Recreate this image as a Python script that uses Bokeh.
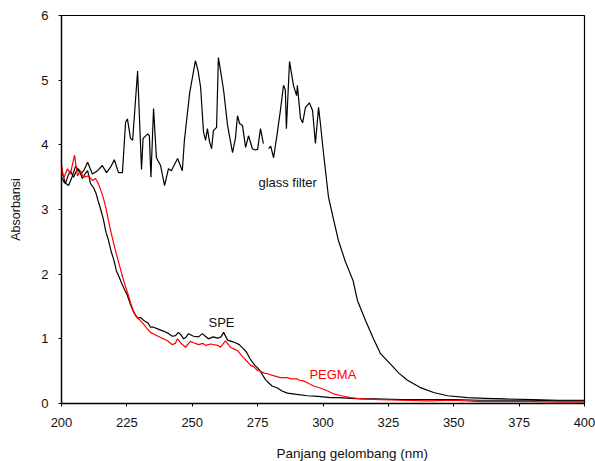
from bokeh.plotting import figure
from bokeh.models import Label, FixedTicker, Range1d, LinearAxis, Title
from bokeh.embed import file_html
from bokeh.resources import INLINE

nan = float("nan")

# x ticks / y ticks
x_ticks = [200, 225, 250, 275, 300, 325, 350, 375, 400]
y_ticks = [0, 1, 2, 3, 4, 5, 6]

# glass filter (black)
gf_nm = [200, 201, 202.7, 204, 205.4, 207.3, 208.5, 210, 211.8, 213.8, 215.6, 217.2, 218.7,
         220.2, 221.8, 223.3, 224.5, 225.2, 226.4, 227.2, 229.1, 230.6, 231.2, 233.0, 233.6,
         234.2, 235.2, 236.3, 237.9, 239.4, 240.9, 242.0, 244.4, 246.2, 247.0, 249.0, 251.2,
         252.2, 253.2, 254.3, 255.1, 255.8, 256.6, 257.4, 258.1, 259.3, 260.0, 261.0, 262.0,
         263.5, 265.4, 266.5, 267.3, 268.1, 269.2, 270.4, 271.5, 273.0, 274.0, 275.0, 276.1,
         277.2, nan, 279.2, 280.0, 281.1, 282.4, 283.7, 284.9, 285.6, 286.0, 287.2, 288.7,
         289.9, 290.2, 291.4, 292.2, 293.3, 294.8, 296.0, 297.1, 298.3, 299.0, 300.2, 302.1,
         304.0, 305.9, 308.5, 311.5, 313.2, 316.3, 319.3, 322.0, 326.0, 329.0, 332.3, 337.0,
         342.3, 347.6, 355.3, 362, 370, 380, 390, 400]
gf_abs = [3.50, 3.42, 3.37, 3.50, 3.67, 3.55, 3.60, 3.73, 3.55, 3.60, 3.68, 3.57, 3.65,
          3.77, 3.57, 3.57, 4.35, 4.40, 4.10, 4.07, 5.14, 3.62, 4.10, 4.17, 4.14,
          3.50, 4.56, 3.80, 3.68, 3.37, 3.63, 3.60, 3.79, 3.60, 4.07, 4.80, 5.30,
          5.15, 4.89, 4.20, 4.07, 4.25, 4.05, 3.94, 4.22, 4.27, 5.35, 5.10, 4.84,
          4.30, 3.88, 4.10, 4.45, 4.33, 4.30, 3.96, 4.14, 3.94, 3.92, 3.93, 4.25,
          4.02, nan, 3.94, 3.98, 3.80, 4.15, 4.53, 4.92, 4.85, 4.25, 5.29, 4.92,
          4.76, 4.92, 4.41, 4.34, 4.58, 4.65, 4.53, 4.02, 4.58, 4.33, 3.87, 3.19,
          2.85, 2.52, 2.20, 1.90, 1.59, 1.28, 1.00, 0.77, 0.60, 0.47, 0.36, 0.25,
          0.17, 0.12, 0.09, 0.08, 0.07, 0.06, 0.05, 0.05]

# SPE (black)
spe_nm = [200, 200.8, 201.5, 202.5, 203.4, 204.6, 205.5, 206.5, 208, 209, 210, 211.1, 212.2,
          213.2, 214.1, 215, 216, 217, 218, 219, 220, 221, 222, 223, 224, 225.2, 226.4, 227.5,
          228.5, 229.5, 230.2, 231, 232, 233, 234, 235.2, 237, 239, 241, 242.4, 243.6, 244.7,
          245.7, 246.7, 247.5, 248.6, 250.5, 252.4, 253.9, 255, 256.2, 258, 259.7, 261, 262,
          263.5, 265, 266.5, 268, 269.2, 270.2, 271.1, 272, 273, 274, 275, 276, 276.9, 278,
          279.2, 280.5, 282.6, 284.5, 286.4, 290, 294, 298, 302.9, 306, 310.5, 315, 320, 330,
          340, 350, 360, 370, 380, 390, 400]
spe_abs = [3.60, 3.50, 3.40, 3.52, 3.60, 3.50, 3.58, 3.63, 3.48, 3.55, 3.60, 3.40, 3.34,
           3.25, 3.12, 3.00, 2.85, 2.65, 2.52, 2.35, 2.22, 2.05, 1.96, 1.86, 1.77, 1.67, 1.53, 1.42,
           1.35, 1.32, 1.33, 1.30, 1.27, 1.25, 1.18, 1.18, 1.15, 1.12, 1.08, 1.04, 1.05, 1.10,
           1.06, 1.00, 1.02, 1.08, 1.04, 1.03, 1.08, 1.04, 1.00, 1.03, 1.01, 1.03, 1.10,
           0.98, 0.96, 0.94, 0.91, 0.86, 0.82, 0.77, 0.70, 0.64, 0.59, 0.55, 0.50, 0.44, 0.37,
           0.32, 0.27, 0.24, 0.19, 0.16, 0.14, 0.12, 0.11, 0.09, 0.09, 0.08, 0.07, 0.07, 0.06,
           0.06, 0.06, 0.05, 0.05, 0.05, 0.04, 0.04]

# PEGMA (red)
peg_nm = [200, 200.8, 202.3, 203.4, 205, 206.1, 207.3, 208.4, 210.3, 211.9, 213, 214.1, 215,
          216, 217, 218, 219, 220, 221, 222, 223, 224, 225.2, 226.4, 227.5, 229, 230, 231.3,
          232.5, 234, 236, 237.9, 239, 240.5, 242.4, 243.5, 244.4, 245.5, 247.4, 249.3, 250.5,
          252.4, 254, 255.1, 257, 259.7, 260.8, 262.7, 264.6, 266, 267.3, 268.5, 269.6, 271,
          272.3, 273.5, 275, 276.1, 277.5, 278.8, 281, 283.7, 286, 288, 290.2, 291, 292.5, 294,
          296.4, 299, 302, 304, 307, 310.5, 315, 322, 330, 340, 350, 360, 370, 380, 390, 400]
peg_abs = [3.70, 3.48, 3.63, 3.55, 3.84, 3.52, 3.60, 3.50, 3.52, 3.45, 3.48, 3.40, 3.30,
           3.18, 3.02, 2.82, 2.64, 2.47, 2.31, 2.16, 2.01, 1.87, 1.72, 1.56, 1.43, 1.32, 1.29, 1.23,
           1.17, 1.10, 1.06, 1.02, 1.00, 0.97, 0.91, 0.93, 1.00, 0.94, 0.87, 0.96, 0.94,
           0.91, 0.93, 0.90, 0.92, 0.90, 0.87, 0.97, 0.87, 0.84, 0.82, 0.76, 0.71, 0.65,
           0.59, 0.57, 0.51, 0.50, 0.47, 0.46, 0.43, 0.40, 0.40, 0.38, 0.38, 0.36, 0.35, 0.32,
           0.27, 0.24, 0.19, 0.15, 0.12, 0.09, 0.07, 0.06, 0.05, 0.04, 0.05, 0.03, 0.03, 0.03, 0.02, 0.02]

FONT = "Liberation Sans"

p = figure(width=595, height=461, output_backend="svg", toolbar_location=None,
           x_range=Range1d(200, 400), y_range=Range1d(0, 6),
           min_border_left=61, min_border_right=11, min_border_top=15, min_border_bottom=58)
p.background_fill_color = "white"
p.border_fill_color = "white"
p.outline_line_color = "black"
p.outline_line_width = 1.2
p.grid.visible = False

p.xaxis.ticker = FixedTicker(ticks=x_ticks)
p.yaxis.ticker = FixedTicker(ticks=y_ticks)
for ax in (p.xaxis, p.yaxis):
    ax.axis_line_color = "black"
    ax.axis_line_width = 1.3
    ax.major_tick_line_color = "black"
    ax.major_tick_in = 0
    ax.major_tick_out = 3
    ax.minor_tick_line_color = None
    ax.major_label_text_font = FONT
    ax.major_label_text_font_size = "13px"
    ax.major_label_text_color = "#111111"
p.xaxis.major_label_standoff = 11
p.yaxis.major_label_standoff = 10

p.yaxis.axis_label = "Absorbansi"
p.yaxis.axis_label_text_font = FONT
p.yaxis.axis_label_text_font_size = "12.5px"
p.yaxis.axis_label_text_font_style = "normal"
p.yaxis.axis_label_text_color = "#111111"
p.yaxis.axis_label_standoff = 15

# invisible spacer axis below the tick labels, then the x title (offset to the right)
spacer = LinearAxis(ticker=FixedTicker(ticks=[300]), axis_line_color=None,
                    major_tick_line_color=None, minor_tick_line_color=None,
                    major_tick_out=14, major_tick_in=0, minor_tick_out=0,
                    major_label_standoff=0, major_label_text_font_size="0px",
                    major_label_text_color=None)
p.add_layout(spacer, "below")

xt = Title(text="Panjang gelombang (nm)", align="left", offset=215, standoff=0,
           text_font=FONT, text_font_size="13.5px", text_font_style="normal",
           text_color="#111111")
p.add_layout(xt, "below")

p.line(gf_nm, gf_abs, line_color="black", line_width=1.2)
p.line(spe_nm, spe_abs, line_color="black", line_width=1.2)
p.line(peg_nm, peg_abs, line_color="#ff0000", line_width=1.2)

p.add_layout(Label(x=275.3, y=3.42, text="glass filter", text_font=FONT, text_font_size="13px",
                   text_color="#111111", text_align="left", text_baseline="alphabetic"))
p.add_layout(Label(x=256.2, y=1.26, text="SPE", text_font=FONT, text_font_size="13px",
                   text_color="#111111", text_align="left", text_baseline="alphabetic"))
p.add_layout(Label(x=294.8, y=0.45, text="PEGMA", text_font=FONT, text_font_size="13px",
                   text_color="#ff0000", text_align="left", text_baseline="alphabetic"))

open("out.html", "w").write(file_html(p, INLINE))
